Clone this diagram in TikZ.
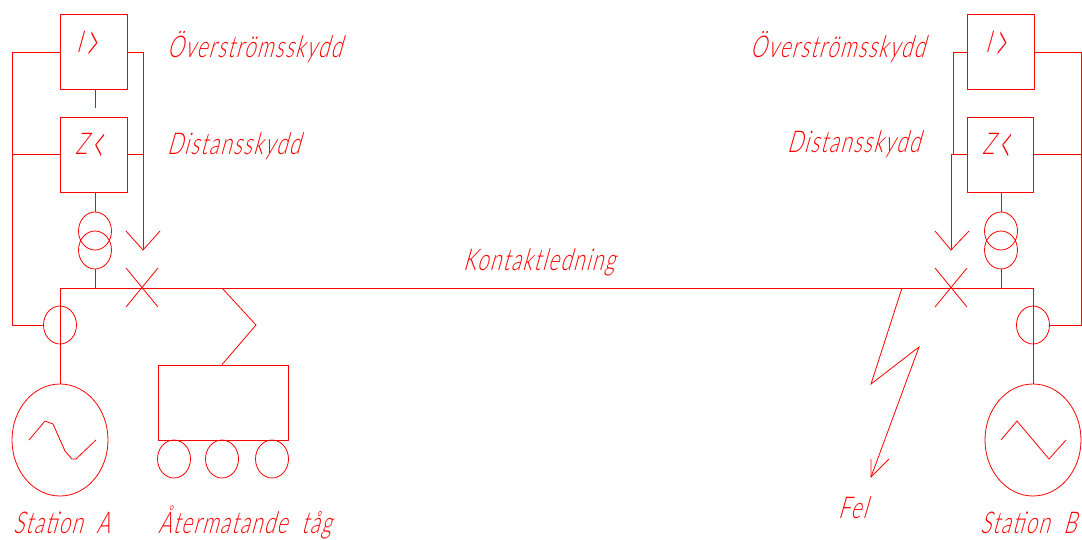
\documentclass[tikz,border=0pt]{standalone}
\usepackage{fontspec}
\usetikzlibrary{shapes.geometric}
\newfontfamily\cadfont[UprightFont=* Light,FakeSlant=0.28,FakeStretch=0.68,LetterSpace=5]{Lato}
\newcommand{\tallsign}[1]{\kern4pt\raisebox{-10pt}{\scalebox{0.95}[1.9]{#1}}}
\tikzset{
    wire/.style={red,line width=0.8pt},
    relay/.style={draw=red,line width=0.8pt,rectangle,inner sep=0pt,minimum width=#1,minimum height=75pt},
    relay/.default=67pt,
    oval/.style={draw=red,line width=0.8pt,ellipse,inner sep=0pt,minimum width=33pt,minimum height=38pt},
    machine/.style={draw=red,line width=0.8pt,ellipse,inner sep=0pt,minimum width=96pt,minimum height=112pt},
    caption/.style={red,anchor=base west,inner sep=0pt,font=\fontsize{30}{30}\cadfont}
}
\begin{document}
\begin{tikzpicture}[x=1pt,y=-1pt]
    \useasboundingbox (0,0) rectangle (1082,539);
    % station A
    \node[relay] (overA) at (93.5,52) {};
    \node[relay] (distA) at (93.5,154.5) {};
    \node[oval] (trA1) at (95,231) {};
    \node[oval] (trA2) at (95,250) {};
    \node[oval] (ctA) at (60,325) {};
    \node[machine] (genA) at (60,440) {};
    \coordinate (busA) at (60,288);
    \coordinate (tapA) at (95,288);
    \coordinate (retA) at (12,325);
    \coordinate (arrowA) at (143,250);
    \draw[wire] (overA.west) -- (12,52) -- (retA) -- (ctA.west);
    \draw[wire] (distA.west) -- (12,154.5);
    \draw[wire] (overA.east) -- (143,52) -- (arrowA);
    \draw[wire] (distA.east) -- (144,154.5);
    \draw[wire] (126,231) -- (arrowA) -- (160,231);
    \draw[wire] (overA.south -| tapA) -- (95,108);
    \draw[wire] (distA.south -| tapA) -- (trA1.north);
    \draw[wire] (trA2.south) -- (tapA);
    \draw[wire] (busA) -- (genA.north);
    \draw[wire] (126,268) -- (158,307);
    \draw[wire] (158,268) -- (126,307);
    \draw[wire] (29,440) -- (45,421) -- (53,424) -- (65,451) -- (72,459) -- (76,459) -- (96,440);
    % station B
    \node[relay] (overB) at (1001,52) {};
    \node[relay=66pt] (distB) at (1000,154.5) {};
    \node[oval] (trB1) at (1001,231) {};
    \node[oval] (trB2) at (1001,250) {};
    \node[oval] (ctB) at (1033,325) {};
    \node[machine] (genB) at (1033,440) {};
    \coordinate (busB) at (1033,288);
    \coordinate (tapB) at (1001,288);
    \coordinate (retB) at (1081,325);
    \coordinate (arrowB) at (951,250);
    \draw[wire] (overB.east) -- (1081,52) -- (retB) -- (ctB.east);
    \draw[wire] (distB.east) -- (1081,154.5);
    \draw[wire] (overB.west) -- (953,52) -- (953,154.5);
    \draw[wire] (distB.west) -- (951,154.5) -- (arrowB);
    \draw[wire] (935,231) -- (arrowB) -- (969,231);
    \draw[wire] (distB.south -| tapB) -- (trB1.north);
    \draw[wire] (trB2.south) -- (tapB);
    \draw[wire] (busB) -- (genB.north);
    \draw[wire] (935,268) -- (967,307);
    \draw[wire] (967,268) -- (935,307);
    \draw[wire] (1001,440) -- (1017,421) -- (1049,459) -- (1066,440);
    % line, train and fault
    \draw[wire] (busA) -- (busB);
    \node[draw=red,line width=0.8pt,rectangle,inner sep=0pt,minimum width=130pt,minimum height=75pt] (car) at (223,402.5) {};
    \node[oval] (wheel1) at (174,459) {};
    \node[oval] (wheel2) at (222,459) {};
    \node[oval] (wheel3) at (272,459) {};
    \draw[wire] (222,288) -- (256,325) -- (car.north -| wheel2);
    \coordinate (faultTip) at (871,477);
    \draw[wire] (902,288) -- (871,384) -- (919,347) -- (faultTip);
    \draw[wire] (871,459) -- (faultTip) -- (889,459);
    % labels
    \node[caption] (lblOverA) at (167,57) {Överströmsskydd};
    \node[caption] (lblDistA) at (167,154) {Distansskydd};
    \node[caption] (lblOverB) at (750,57) {Överströmsskydd};
    \node[caption] (lblDistB) at (787,152) {Distansskydd};
    \node[caption] (lblLine) at (463,270) {Kontaktledning};
    \node[caption] (lblStatA) at (13,533) {Station\ \ A};
    \node[caption] (lblTrain) at (158,533) {Återmatande\ \ tåg};
    \node[caption] (lblFel) at (838,518) {Fel};
    \node[caption] (lblStatB) at (980,533) {Station\ \ B};
    \node[caption] (symOverA) at (76,52) {I\tallsign{>}};
    \node[caption] (symDistA) at (75,154) {Z\tallsign{<}};
    \node[caption] (symOverB) at (985,52) {I\tallsign{>}};
    \node[caption] (symDistB) at (982,154) {Z\tallsign{<}};
\end{tikzpicture}
\end{document}
